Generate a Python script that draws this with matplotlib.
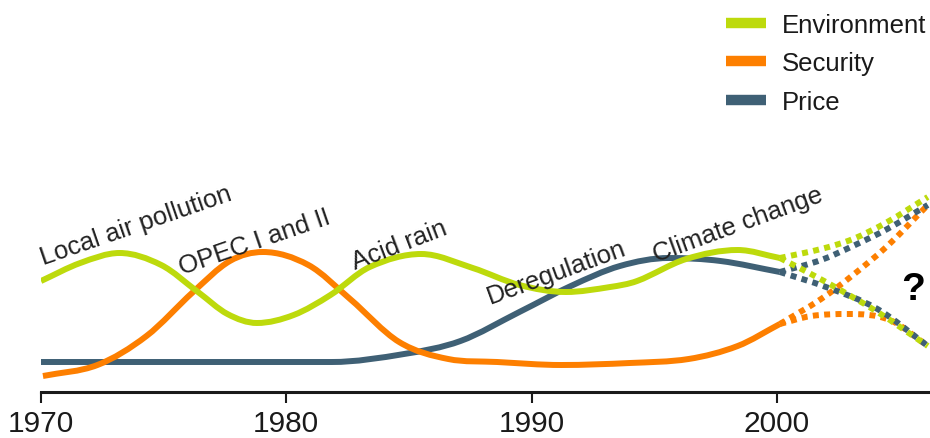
import numpy as np
import matplotlib
matplotlib.use("Agg")
import matplotlib.pyplot as plt
from matplotlib.path import Path
from matplotlib.patches import PathPatch
from matplotlib.lines import Line2D

plt.rcParams['font.family'] = ['Liberation Sans', 'DejaVu Sans']

# Salience of each energy policy driver (arbitrary units above the time axis)
env_years = [1970.0, 1971.6, 1973.2, 1974.9, 1976.4, 1977.6, 1978.8, 1980.3, 1981.8,
             1983.4, 1985.5, 1987.6, 1989.5, 1991.4, 1993.2, 1994.3, 1996.3, 1998.4, 2000.12]
env_vals = [111, 129, 139, 127, 100, 78, 69, 77, 97,
            125, 138, 124, 107, 100, 105, 111, 133, 142, 134]

sec_years = [1970.08, 1972.3, 1974.3, 1976.2, 1977.7, 1979.05, 1980.9, 1982.6, 1984.6,
             1986.6, 1988.6, 1991.2, 1994.0, 1996.4, 1998.4, 2000.12]
sec_vals = [16, 27, 56, 100, 131, 140, 127, 93, 50,
            33, 30, 27, 29, 33, 46, 68]

price_years = [1970.0, 1981.86, 1984.8, 1987.1, 1989.5, 1991.6, 1993.6, 1995.6, 1997.7, 2000.12]
price_vals = [30, 30, 38, 51, 80, 106, 126, 134, 131, 120]

# Scenarios after 2000: two possible paths per driver
up_years = [2000.12, 2001.8, 2003.1, 2004.5, 2006.15]
env_up = [134, 143, 153, 170, 195]
sec_up = [68, 93, 117, 146, 187]
price_up = [120, 132, 146, 163, 187]

down_years = [2000.12, 2002.0, 2004.1, 2006.15]
env_down = [134, 110, 80, 46]
price_down = [120, 105, 83, 46]
sec_down_years = [2000.12, 2001.4, 2002.9, 2004.6, 2006.15]
sec_down = [68, 76, 78, 72, 46]

labels = ["Local air pollution", "OPEC I and II", "Acid rain", "Deregulation", "Climate change"]
label_years = [1970.1, 1975.75, 1982.8, 1988.3, 1995.1]
label_vals = [128, 118, 123, 89, 131]
label_rot = [19, 19, 21, 20, 20]

GREEN = '#bdda0c'
ORANGE = '#fd7f00'
SLATE = '#3f6075'


def smooth_path(xs, ys):
    """Bezier path through the points, flat at peaks and troughs."""
    xs = np.asarray(xs, float)
    ys = np.asarray(ys, float)
    d = np.diff(ys) / np.diff(xs)
    m = np.zeros(len(xs))
    m[0], m[-1] = d[0], d[-1]
    for i in range(1, len(xs) - 1):
        if d[i - 1] * d[i] <= 0:
            m[i] = 0
        else:
            m[i] = (ys[i + 1] - ys[i - 1]) / (xs[i + 1] - xs[i - 1])
    verts = [(xs[0], ys[0])]
    codes = [Path.MOVETO]
    for i in range(len(xs) - 1):
        h = xs[i + 1] - xs[i]
        verts += [(xs[i] + h / 3, ys[i] + m[i] * h / 3),
                  (xs[i + 1] - h / 3, ys[i + 1] - m[i + 1] * h / 3),
                  (xs[i + 1], ys[i + 1])]
        codes += [Path.CURVE4] * 3
    return Path(verts, codes)


def draw(ax, xs, ys, color, dotted=False, z=2):
    style = (0, (1, 0.9)) if dotted else 'solid'
    ax.add_patch(PathPatch(smooth_path(xs, ys), fill=False, edgecolor=color,
                           lw=4.3, linestyle=style, capstyle='butt',
                           joinstyle='round', zorder=z))


fig = plt.figure(figsize=(9.3, 4.39), dpi=100)
ax = fig.add_axes([41 / 930, 46 / 439, 889 / 930, 393 / 439])
ax.set_xlim(1970, 2006.24)
ax.set_ylim(0, 393)

draw(ax, price_years, price_vals, SLATE, z=2)
draw(ax, sec_years, sec_vals, ORANGE, z=3)
draw(ax, env_years, env_vals, GREEN, z=4)

draw(ax, up_years, sec_up, ORANGE, dotted=True, z=3)
draw(ax, sec_down_years, sec_down, ORANGE, dotted=True, z=3)
draw(ax, up_years, price_up, SLATE, dotted=True, z=4)
draw(ax, down_years, price_down, SLATE, dotted=True, z=4)
draw(ax, up_years, env_up, GREEN, dotted=True, z=5)
draw(ax, down_years, env_down, GREEN, dotted=True, z=5)

for txt, x, y, r in zip(labels, label_years, label_vals, label_rot):
    ax.text(x, y, txt, rotation=r, rotation_mode='anchor', ha='left', va='baseline',
            fontsize=18.5, color='#222222', zorder=6)

ax.text(2005.55, 103, "?", ha='center', va='center', fontsize=28,
        fontweight='bold', color='black')

for s in ['top', 'right', 'left']:
    ax.spines[s].set_visible(False)
ax.spines['bottom'].set_linewidth(2.2)
ax.spines['bottom'].set_color('#1a1a1a')
ax.set_yticks([])
ax.set_xticks([1970, 1980, 1990, 2000])
ax.tick_params(axis='x', length=8, width=1.5, color='#1a1a1a', labelsize=21.5,
               labelcolor='#1a1a1a', pad=4)
ax.patch.set_visible(False)

handles = [Line2D([], [], color=c, lw=7.5, solid_capstyle='butt')
           for c in (GREEN, ORANGE, SLATE)]
fig.legend(handles, ["Environment", "Security", "Price"], loc='upper left',
           bbox_to_anchor=(726 / 930, 1 - 14 / 439), frameon=False, fontsize=18.5,
           handlelength=1.56, handletextpad=0.62, labelspacing=0.56,
           borderpad=0, borderaxespad=0, labelcolor='#1a1a1a')

fig.savefig("out.png", dpi=100)
